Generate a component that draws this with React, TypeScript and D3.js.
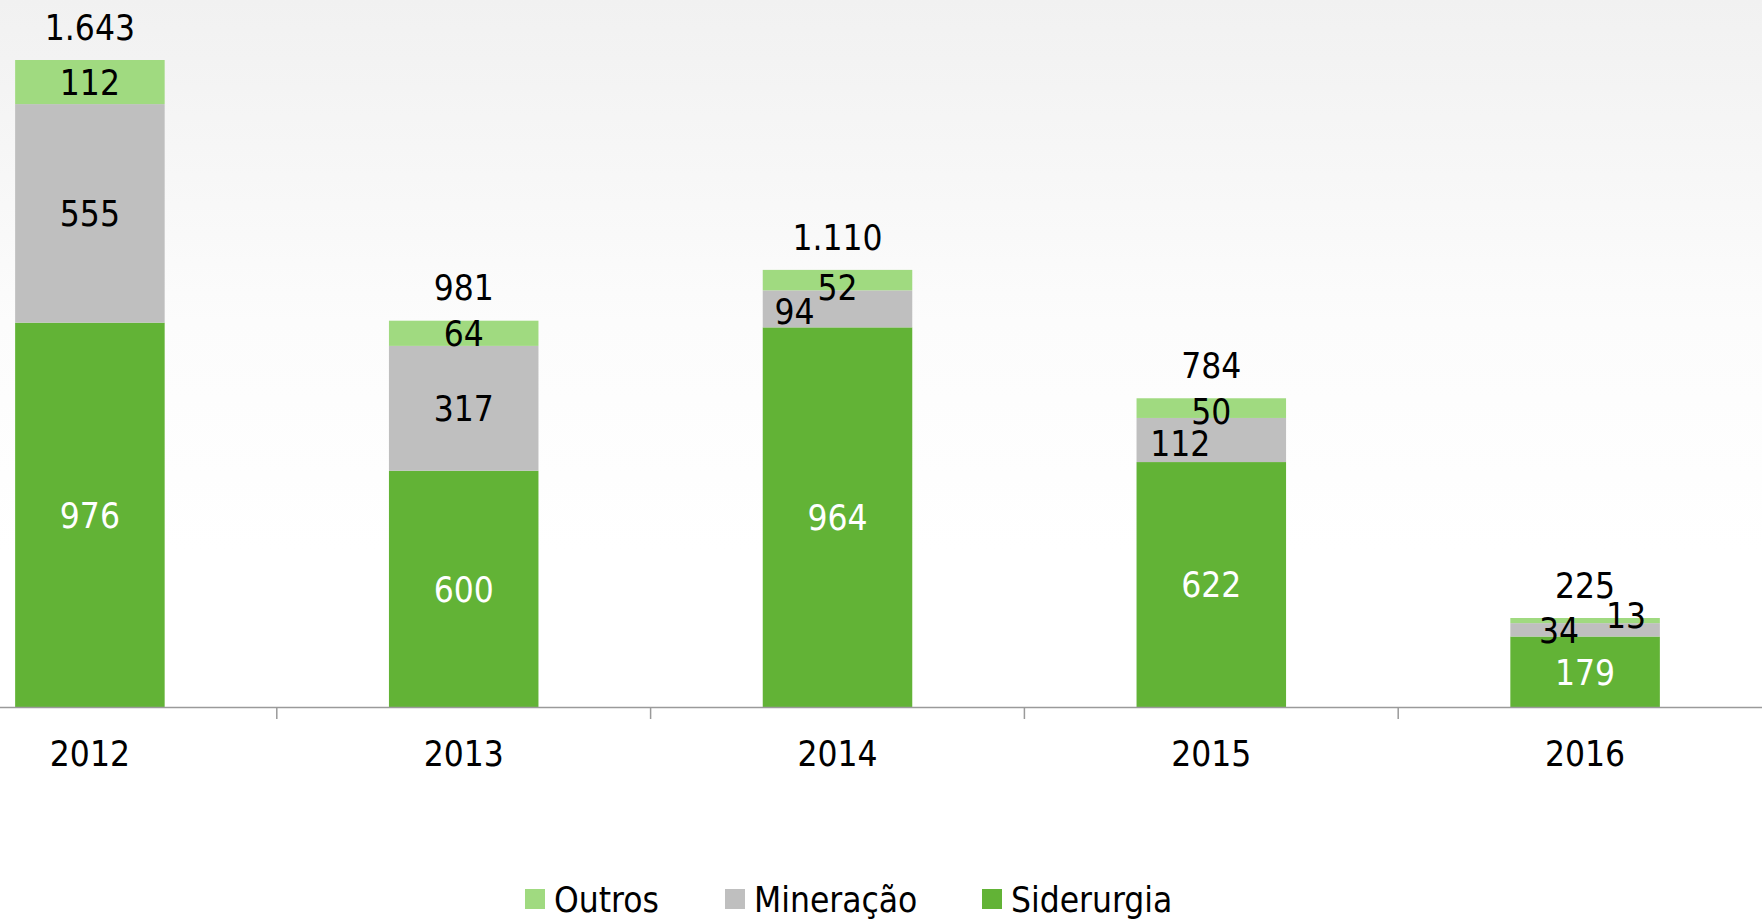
import React from "react";
import * as d3 from "d3";

const years = ["2012", "2013", "2014", "2015", "2016"];
const siderurgia = [976, 600, 964, 622, 179];
const mineracao = [555, 317, 94, 112, 34];
const outros = [112, 64, 52, 50, 13];
const totals = ["1.643", "981", "1.110", "784", "225"];
const seriesNames = ["Siderurgia", "Mineração", "Outros"];
const legendOrder = ["Outros", "Mineração", "Siderurgia"];

const colors: Record<string, string> = {
  Siderurgia: "#62B336",
  "Mineração": "#BFBFBF",
  Outros: "#A0DA80",
};
const labelColors: Record<string, string> = {
  Siderurgia: "#FFFFFF",
  "Mineração": "#000000",
  Outros: "#000000",
};
// manual label nudges (px) where Excel moved overlapping labels
const nudges: Record<string, [number, number]> = {
  "2014-Mineração": [-43, 2],
  "2014-Outros": [0, 7],
  "2015-Mineração": [-31, 3],
  "2015-Outros": [0, 3],
  "2016-Mineração": [-26, 0],
  "2016-Outros": [41, -5],
};

const W = 1762;
const H = 920;
const FONT = "'DejaVu Sans Condensed', 'DejaVu Sans', sans-serif";
const FS = 35;
const CAP = FS * 0.729;

export default function App() {
  const x = d3.scaleBand<string>().domain(years).range([-97, 1772]).paddingInner(0.6).paddingOuter(0.3);
  const y = d3.scaleLinear().domain([0, 1643]).range([707, 60]);

  const table = years.map((yr, i) => ({
    year: yr,
    Siderurgia: siderurgia[i],
    "Mineração": mineracao[i],
    Outros: outros[i],
  }));
  const stack = d3.stack<any>().keys(seriesNames)(table);
  const step = x.step();
  const bw = x.bandwidth();
  const ticks = years.slice(1).map((yr) => (x(yr) as number) - (step - bw) / 2);

  return (
    <svg
      width={W}
      height={H}
      style={{ position: "absolute", left: 0, top: 0, fontFamily: FONT }}
    >
      <defs>
        <linearGradient id="bg" x1="0" y1="0" x2="0" y2="1">
          <stop offset="0" stopColor="#f1f1f1" />
          <stop offset="0.35" stopColor="#fcfcfc" />
          <stop offset="0.6" stopColor="#ffffff" />
        </linearGradient>
      </defs>
      <rect x={0} y={0} width={W} height={H} fill="url(#bg)" />
      {stack.map((s) => (
        <g key={s.key}>
          {s.map((d: any, i: number) => (
            <rect
              key={i}
              x={x(years[i])}
              width={bw}
              y={y(d[1])}
              height={y(d[0]) - y(d[1])}
              fill={colors[s.key]}
            />
          ))}
        </g>
      ))}
      <line x1={0} x2={W} y1={707.5} y2={707.5} stroke="#9a9a9a" strokeWidth={1.5} />
      {ticks.map((t, i) => (
        <line key={i} x1={t} x2={t} y1={707} y2={719} stroke="#9a9a9a" strokeWidth={1.5} />
      ))}
      {stack.map((s) => (
        <g key={"l" + s.key}>
          {s.map((d: any, i: number) => {
            const n = nudges[years[i] + "-" + s.key] || [0, 0];
            const cx = (x(years[i]) as number) + bw / 2 + n[0];
            const cy = (y(d[0]) + y(d[1])) / 2 + n[1];
            return (
              <text
                key={i}
                x={cx}
                y={cy + CAP / 2}
                textAnchor="middle"
                fontSize={FS}
                fill={labelColors[s.key]}
              >
                {d[1] - d[0]}
              </text>
            );
          })}
        </g>
      ))}
      {years.map((yr, i) => {
        const top = stack[stack.length - 1][i][1];
        return (
          <text
            key={"t" + yr}
            x={(x(yr) as number) + bw / 2}
            y={y(top) - 33 + CAP / 2}
            textAnchor="middle"
            fontSize={FS}
            fill="#000"
          >
            {totals[i]}
          </text>
        );
      })}
      {years.map((yr) => (
        <text
          key={"x" + yr}
          x={(x(yr) as number) + bw / 2}
          y={753 + CAP / 2}
          textAnchor="middle"
          fontSize={FS}
          fill="#000"
        >
          {yr}
        </text>
      ))}
      {legendOrder.map((name, i) => {
        const lx = [525, 725, 982][i];
        return (
          <g key={"lg" + name}>
            <rect x={lx} y={889} width={20} height={20} fill={colors[name]} />
            <text x={lx + 29} y={899 + CAP / 2} fontSize={FS} fill="#000">
              {name}
            </text>
          </g>
        );
      })}
    </svg>
  );
}
